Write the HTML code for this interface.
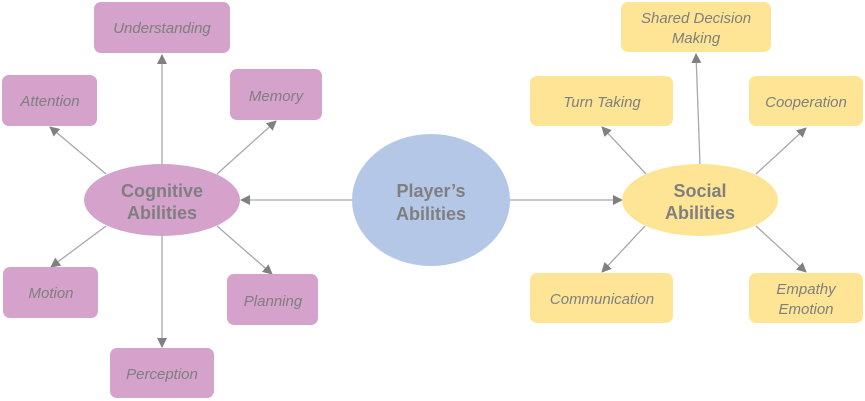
<!DOCTYPE html>
<html><head><meta charset="utf-8"><style>
html,body{margin:0;padding:0;background:#fff;}
svg{display:block;}
text{font-family:"Liberation Sans",sans-serif;fill:#7f7f7f;}
.i{font-style:italic;font-size:15px;}
.b{font-weight:bold;font-size:18px;}
</style></head><body>
<svg width="865" height="401" viewBox="0 0 865 401">
<defs><marker id="a" markerWidth="10" markerHeight="10" refX="9" refY="5" orient="auto" markerUnits="userSpaceOnUse"><path d="M0,0 L10,5 L0,10 z" fill="#808080"/></marker></defs>
<g stroke="#a8a8a8" stroke-width="1.3" fill="none" marker-end="url(#a)">
<line x1="162" y1="164" x2="162" y2="55"/>
<line x1="106" y1="174" x2="50" y2="127"/>
<line x1="217" y1="174" x2="276" y2="121"/>
<line x1="106" y1="226" x2="51" y2="267"/>
<line x1="217" y1="226" x2="272" y2="274"/>
<line x1="162" y1="236" x2="162" y2="347"/>
<line x1="352" y1="200" x2="241" y2="200"/>
<line x1="509" y1="200" x2="622" y2="200"/>
<line x1="646" y1="174" x2="602" y2="127"/>
<line x1="700" y1="164" x2="696" y2="54"/>
<line x1="756" y1="174" x2="806" y2="128"/>
<line x1="645" y1="226" x2="602" y2="272"/>
<line x1="756" y1="226" x2="806" y2="272"/>
</g>
<g fill="#d4a2cb">
<rect x="94" y="2" width="136" height="51" rx="7"/>
<rect x="2" y="75" width="95" height="51" rx="7"/>
<rect x="230" y="69" width="92" height="51" rx="7"/>
<rect x="3" y="267" width="95" height="51" rx="7"/>
<rect x="227" y="274" width="91" height="51" rx="7"/>
<rect x="110" y="348" width="104" height="50" rx="7"/>
<ellipse cx="162" cy="200" rx="78" ry="36"/>
</g>
<ellipse cx="431" cy="200" rx="79" ry="66" fill="#b4c7e7"/>
<g fill="#fee595">
<rect x="621" y="2" width="150" height="50" rx="7"/>
<rect x="530" y="76" width="143" height="50" rx="7"/>
<rect x="749" y="76" width="114" height="50" rx="7"/>
<rect x="530" y="273" width="143" height="50" rx="7"/>
<rect x="749" y="273" width="114" height="50" rx="7"/>
<ellipse cx="700" cy="200" rx="78" ry="36"/>
</g>
<g text-anchor="middle">
<text class="i" x="162" y="33">Understanding</text>
<text class="i" x="50" y="106">Attention</text>
<text class="i" x="276" y="101">Memory</text>
<text class="i" x="51" y="298">Motion</text>
<text class="i" x="273" y="306">Planning</text>
<text class="i" x="162" y="379">Perception</text>
<text class="b" x="162" y="197">Cognitive</text>
<text class="b" x="162" y="219">Abilities</text>
<text class="b" x="431" y="197">Player’s</text>
<text class="b" x="431" y="220">Abilities</text>
<text class="b" x="700" y="197">Social</text>
<text class="b" x="700" y="219">Abilities</text>
<text class="i" x="696" y="23">Shared Decision</text>
<text class="i" x="696" y="43">Making</text>
<text class="i" x="602" y="107">Turn Taking</text>
<text class="i" x="806" y="107">Cooperation</text>
<text class="i" x="602" y="304">Communication</text>
<text class="i" x="806" y="294">Empathy</text>
<text class="i" x="806" y="314">Emotion</text>
</g>
</svg>
</body></html>
